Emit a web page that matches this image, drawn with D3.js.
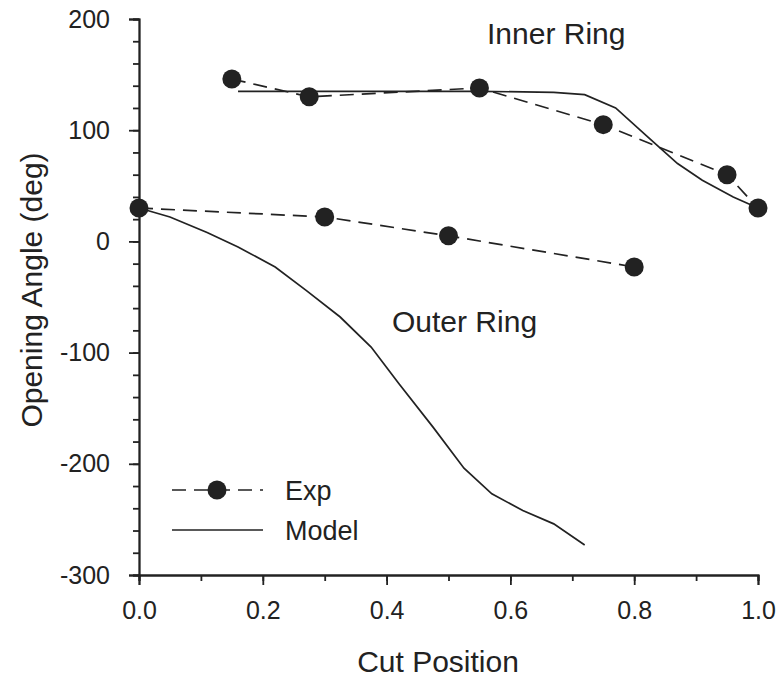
<!DOCTYPE html>
<html>
<head>
<meta charset="utf-8">
<script src="https://cdn.jsdelivr.net/npm/d3@7"></script>
<style>
	body { margin: 0; background: #fff; }
	svg text { font-family: "Liberation Sans", Arial, sans-serif; fill: #222; }
</style>
</head>
<body>
<svg id="chart" width="777" height="679"></svg>
<script>
// experimental points
const innerExpX = [0.15, 0.275, 0.55, 0.75, 0.95, 1.0];
const innerExpY = [146, 130, 138, 105, 60, 30];
const outerExpX = [0.0, 0.3, 0.5, 0.8];
const outerExpY = [30, 22, 5, -23];

// model curves
const innerModelX = [0.16, 0.4, 0.55, 0.67, 0.72, 0.77, 0.82, 0.87, 0.91, 0.96, 1.0];
const innerModelY = [135, 135, 135, 134, 132, 120, 95, 70, 55, 40, 30];
const outerModelX = [0.0, 0.05, 0.11, 0.16, 0.22, 0.27, 0.325, 0.375, 0.42, 0.475, 0.525, 0.57, 0.62, 0.67, 0.72];
const outerModelY = [30, 22, 8, -5, -23, -44, -68, -95, -128, -167, -204, -227, -242, -254, -273];

const xTicks = [0, 0.2, 0.4, 0.6, 0.8, 1.0];
const yTicks = [-300, -200, -100, 0, 100, 200];

const ink = "#222";
const svg = d3.select("#chart");

const x = d3.scaleLinear().domain([0, 1]).range([139, 758]);
const y = d3.scaleLinear().domain([-300, 200]).range([575, 19]);

const zip = (xs, ys) => xs.map((v, i) => [v, ys[i]]);
const line = d3.line().x(d => x(d[0])).y(d => y(d[1]));

// axes: minor ticks first, then majors with labels
const xMinor = d3.axisBottom(x).tickValues(d3.range(0, 1.01, 0.1)).tickSize(6).tickFormat("");
const xMajor = d3.axisBottom(x).tickValues(xTicks).tickSize(10).tickPadding(16).tickFormat(d3.format(".1f"));
const yMinor = d3.axisLeft(y).tickValues(d3.range(-300, 201, 20)).tickSize(6).tickFormat("");
const yMajor = d3.axisLeft(y).tickValues(yTicks).tickSize(10).tickPadding(19).tickFormat(d => String(d));

function styleAxis(g) {
	g.selectAll("path, line").attr("stroke", ink).attr("stroke-width", 1.8);
	g.selectAll("text").attr("fill", ink).style("font-size", "25px")
		.style("font-family", "'Liberation Sans', Arial, sans-serif");
}

svg.append("g").attr("transform", "translate(0,575)").call(xMinor).call(styleAxis);
svg.append("g").attr("transform", "translate(0,575)").call(xMajor).call(styleAxis);
svg.append("g").attr("transform", "translate(139,0)").call(yMinor).call(styleAxis);
svg.append("g").attr("transform", "translate(139,0)").call(yMajor).call(styleAxis);

// axis titles
svg.append("text").attr("x", 438).attr("y", 672).attr("text-anchor", "middle")
	.style("font-size", "30px").text("Cut Position");
svg.append("text").attr("transform", "translate(42,290) rotate(-90)").attr("text-anchor", "middle")
	.style("font-size", "30px").text("Opening Angle (deg)");

// model lines
[zip(innerModelX, innerModelY), zip(outerModelX, outerModelY)].forEach(pts => {
	svg.append("path").datum(pts).attr("d", line)
		.attr("fill", "none").attr("stroke", ink).attr("stroke-width", 1.7);
});

// experimental lines and dots
[zip(innerExpX, innerExpY), zip(outerExpX, outerExpY)].forEach(pts => {
	svg.append("path").datum(pts).attr("d", line)
		.attr("fill", "none").attr("stroke", ink).attr("stroke-width", 1.7)
		.attr("stroke-dasharray", "14,8");
	svg.append("g").selectAll("circle").data(pts).enter().append("circle")
		.attr("cx", d => x(d[0])).attr("cy", d => y(d[1])).attr("r", 9.5)
		.attr("fill", ink);
});

// labels
svg.append("text").attr("x", 487).attr("y", 44).style("font-size", "30px").text("Inner Ring");
svg.append("text").attr("x", 392).attr("y", 332).style("font-size", "30px").text("Outer Ring");

// legend
const leg = svg.append("g");
leg.append("line").attr("x1", 172).attr("x2", 263).attr("y1", 490).attr("y2", 490)
	.attr("stroke", ink).attr("stroke-width", 1.7).attr("stroke-dasharray", "14,8");
leg.append("circle").attr("cx", 217).attr("cy", 490).attr("r", 9.5).attr("fill", ink);
leg.append("text").attr("x", 285).attr("y", 500).style("font-size", "27px").text("Exp");
leg.append("line").attr("x1", 172).attr("x2", 263).attr("y1", 530).attr("y2", 530)
	.attr("stroke", ink).attr("stroke-width", 1.7);
leg.append("text").attr("x", 285).attr("y", 540).style("font-size", "27px").text("Model");
</script>
</body>
</html>
